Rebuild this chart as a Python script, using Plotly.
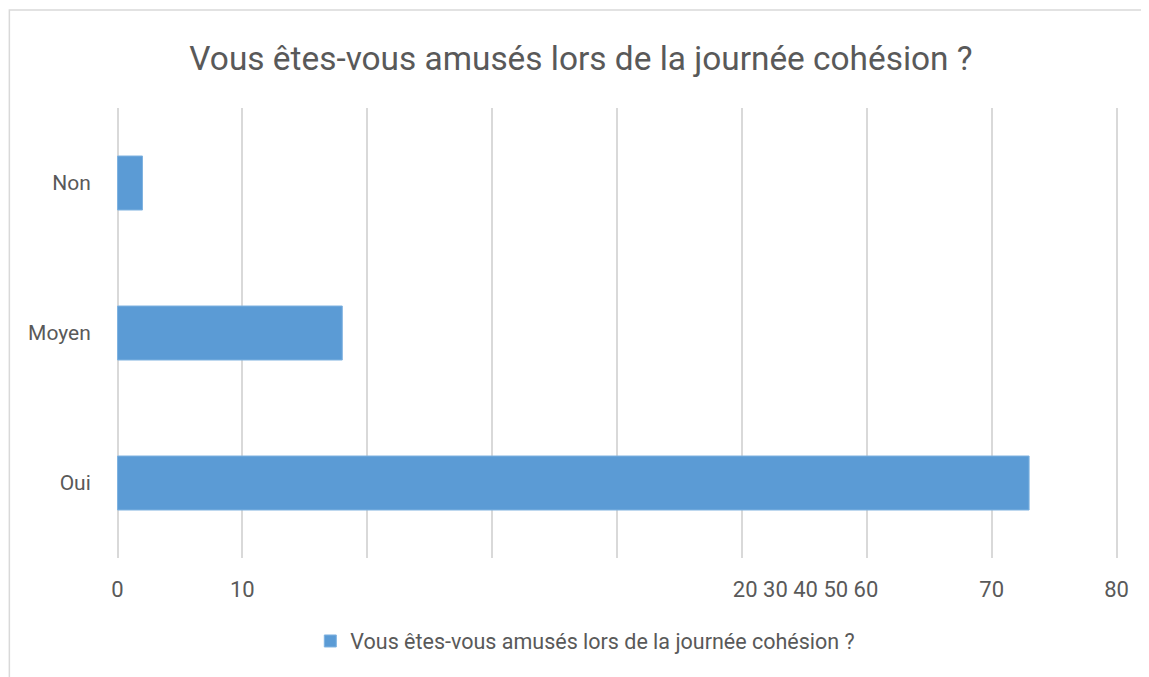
import plotly.graph_objects as go

categories = ["Oui", "Moyen", "Non"]
values = [73, 18, 2]
series_name = "Vous êtes-vous amusés lors de la journée cohésion ?"
title_text = "Vous êtes-vous amusés lors de la journée cohésion ?"
x_tick_vals = [0, 10, 55.1, 70, 80]
x_tick_text = ["0", "10", "20 30 40 50 60", "70", "80"]

GRAY = "#595959"
GRID = "#d9d9d9"
BAR = "#5b9bd5"
XR = [-0.2, 80.2]

W, H = 1141, 669
ML, MT, PW, PH = 106.5, 100, 1005, 450

fig = go.Figure()
fig.add_trace(go.Bar(
    x=values, y=categories, orientation="h", name=series_name,
    marker=dict(color=BAR, line=dict(color="#7fb2e0", width=1)),
    width=0.36, showlegend=True, xaxis="x", yaxis="y",
))
# invisible helper trace so the label axis is drawn
fig.add_trace(go.Scatter(
    x=[values[0]], y=[categories[0]], xaxis="x2", yaxis="y", mode="markers",
    marker=dict(opacity=0), showlegend=False, hoverinfo="skip",
))

fig.update_layout(
    width=W, height=H,
    margin=dict(l=ML, r=W - ML - PW, t=MT, b=H - MT - PH),
    paper_bgcolor="white", plot_bgcolor="white",
    title=dict(text=title_text, x=(581 - 8) / W, xref="container", xanchor="center",
               y=1 - 50 / H, yref="container", yanchor="middle",
               font=dict(family="Roboto", size=33.4, color=GRAY)),
    xaxis=dict(range=XR, dtick=10, tick0=0, showgrid=True, gridcolor=GRID,
               gridwidth=1.5, showticklabels=False, zeroline=False,
               showline=False, fixedrange=True, automargin=False),
    xaxis2=dict(range=XR, overlaying="x", anchor="y", side="bottom",
                tickmode="array", tickvals=x_tick_vals, ticktext=x_tick_text,
                showgrid=False, zeroline=False, showline=False, automargin=False,
                ticks="outside", ticklen=12, tickcolor="rgba(0,0,0,0)",
                tickfont=dict(family="Roboto", size=22, color=GRAY)),
    yaxis=dict(range=[-0.5, 2.5], showgrid=False, zeroline=False, showline=False,
               automargin=False,
               ticks="outside", ticklen=19, tickcolor="rgba(0,0,0,0)",
               tickfont=dict(family="Roboto", size=21, color=GRAY)),
    legend=dict(orientation="h", x=(302 - ML) / PW, xanchor="left", y=-(635 - 2 - MT - PH) / PH,
                yanchor="middle", font=dict(family="Roboto", size=21.5, color=GRAY),
                itemwidth=30),
    shapes=[dict(type="rect", xref="paper", yref="paper",
                 x0=(0.75 - ML) / PW, x1=1.3, y0=-0.5, y1=1 + (MT - 2) / PH,
                 line=dict(color=GRID, width=1.5), fillcolor="rgba(0,0,0,0)",
                 layer="below")],
)

fig.write_html("out.html")
